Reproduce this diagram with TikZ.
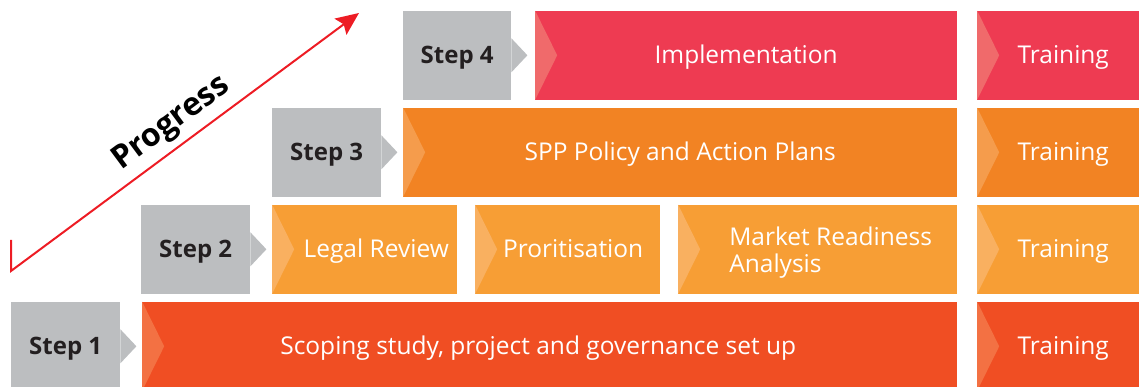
\documentclass[tikz,border=0pt]{standalone}
\usepackage{fontspec}
\setmainfont{Open Sans}
\usetikzlibrary{arrows.meta}

\definecolor{stepgrey}{HTML}{BCBEC0}
\definecolor{labeldark}{HTML}{231F20}
\definecolor{arrowred}{HTML}{ED1C24}
% one colour pair (box, chevron) per row
\definecolor{rowA}{HTML}{F04E23}
\definecolor{rowAlt}{HTML}{F37143}
\definecolor{rowB}{HTML}{F79E35}
\definecolor{rowBlt}{HTML}{F9B060}
\definecolor{rowC}{HTML}{F28323}
\definecolor{rowClt}{HTML}{F59C4C}
\definecolor{rowD}{HTML}{EE3B52}
\definecolor{rowDlt}{HTML}{F06A6B}

\begin{document}
\begin{tikzpicture}[x=1pt,y=1pt]
    \tikzset{
        stepbox/.style={fill=stepgrey, minimum width=109pt, minimum height=89pt,
            anchor=south west, inner sep=0pt, text=labeldark,
            text height=19pt, text depth=3pt,
            font=\bfseries\fontsize{24}{28}\selectfont},
        phase/.style n args={3}{fill=#1, minimum width=#3, minimum height=89pt,
            anchor=south west, inner sep=0pt, text=white, align=left,
            text height=19pt, text depth=3pt,
            font=\fontsize{24.5}{26.7}\selectfont,
            path picture={\fill[#2] (path picture bounding box.north west)
                -- ([xshift=22pt]path picture bounding box.west)
                -- (path picture bounding box.south west) -- cycle;}},
        % moves the label sideways by half the given length
        textnudge/.style={execute at begin node={\hspace*{#1}}}
    }
    \useasboundingbox (0,0) rectangle (1139,387);

    % step 1
    \node[stepbox] (s1) at (11,-4) {Step 1};
    \node[phase={rowA}{rowAlt}{815pt}, textnudge=-23pt] (scope) at (142,-4) {Scoping study, project and governance set up};
    \node[phase={rowA}{rowAlt}{162pt}, textnudge=10pt] (train1) at (977,-4) {Training};
    % step 2
    \node[stepbox] (s2) at (141,93) {Step 2};
    \node[phase={rowB}{rowBlt}{185pt}, textnudge=23pt] (legal) at (272,93) {Legal Review};
    \node[phase={rowB}{rowBlt}{185pt}, textnudge=11pt] (prio) at (475,93) {Proritisation};
    \node[phase={rowB}{rowBlt}{279pt}, textnudge=26pt, text height=46pt, text depth=0pt] (market) at (678,93) {Market Readiness\\Analysis};
    \node[phase={rowB}{rowBlt}{162pt}, textnudge=10pt] (train2) at (977,93) {Training};
    % step 3
    \node[stepbox] (s3) at (272,190) {Step 3};
    \node[phase={rowC}{rowClt}{554pt}] (spp) at (403,190) {SPP Policy and Action Plans};
    \node[phase={rowC}{rowClt}{162pt}, textnudge=10pt] (train3) at (977,190) {Training};
    % step 4
    \node[stepbox, minimum width=108pt] (s4) at (403,287) {Step 4};
    \node[phase={rowD}{rowDlt}{422pt}] (impl) at (535,287) {Implementation};
    \node[phase={rowD}{rowDlt}{162pt}, textnudge=10pt] (train4) at (977,287) {Training};

    % pointers on the grey tags
    \foreach \s in {s1,s2,s3,s4}
        \fill[stepgrey] ([yshift=-17pt]\s.east) -- ([xshift=16pt]\s.east)
            -- ([yshift=17pt]\s.east) -- cycle;

    % progress arrow
    \coordinate (pstart) at (11,147);
    \coordinate (pcorner) at (11,116);
    \coordinate (pend) at (359,374);
    \draw[arrowred, line width=2pt, -{Stealth[length=23pt,width=20pt,inset=4pt]}]
        (pstart) -- (pcorner) -- (pend)
        node[pos=0.5, sloped, above=3pt, text=black,
             font=\bfseries\fontsize{32}{36}\selectfont] (prog) {Progress};
\end{tikzpicture}
\end{document}
